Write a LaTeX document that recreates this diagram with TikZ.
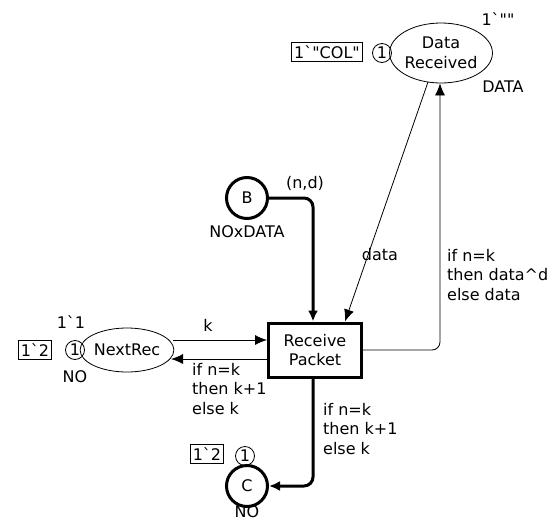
\documentclass[tikz,border=0pt]{standalone}
\usepackage{fontspec}
\setmainfont{DejaVu Sans}[Ligatures=TeXOff]
\usetikzlibrary{arrows.meta,shapes.geometric}
\begin{document}
\begin{tikzpicture}[x=1pt,y=-1pt,
  every node/.style={font=\fontsize{16}{19.5}\selectfont, inner sep=0pt},
  place/.style={draw, ellipse, line width=0.8pt},
  tplace/.style={draw, circle, line width=3pt, minimum size=41pt},
  trans/.style={draw, rectangle, line width=3pt, minimum width=93pt, minimum height=54pt, align=center},
  tok/.style={draw, circle, line width=0.8pt, minimum size=19pt},
  markbox/.style={draw, rectangle, line width=0.8pt, inner xsep=2.5pt, inner ysep=3pt},
  lbl/.style={align=left},
  arc/.style={line width=0.8pt, -{Latex[length=12pt,width=10pt]}},
  tarc/.style={line width=3pt, -{Latex[length=11pt,width=10pt]}, rounded corners=9pt}
]
\useasboundingbox (0,0) rectangle (555,528);
% Data Received
\node[place, minimum width=102pt, minimum height=60pt, align=center] (dr) at (441,53) {Data\\Received};
\node[tok] (drt) at (382,53) {1};
\node[markbox] (drm) at (327,52) {1`"COL"};
\node (dri) at (498,19) {1`""};
\node (drty) at (503,87) {DATA};
% B
\node[tplace] (b) at (247,198) {B};
\node (bty) at (247,232) {NOxDATA};
% Transition
\node[trans] (t) at (315,350) {Receive\\Packet};
% NextRec
\node[place, minimum width=92pt, minimum height=44pt] (nr) at (127,350) {NextRec};
\node[tok] (nrt) at (75,350) {1};
\node[markbox] (nrm) at (35,350) {1`2};
\node (nri) at (71,322) {1`1};
\node (nrty) at (75,377) {NO};
% C
\node[tplace] (c) at (247,486) {C};
\node[tok] (ct) at (245,456) {1};
\node[markbox] (cm) at (207,454) {1`2};
\node (cty) at (247,512) {NO};
% arcs
\coordinate (bc) at (313,198);
\draw[tarc] (b.east) -- (bc) -- (t.north -| bc);
\node (nd) at (305,183) {(n,d)};
\coordinate (dtop) at (428,82);
\draw[arc] (dtop) -- ([xshift=30pt]t.north);
\node (dl) at (380,255) {data};
\coordinate (rc) at (440,350);
\draw[arc, rounded corners=8pt] (t.east) -- (rc) -- (dr.south -| rc);
\node[lbl, anchor=north west] (rl) at (447,249) {if n=k\\then data\textasciicircum d\\else data};
\coordinate (k1) at (173,340);
\draw[arc] (k1) -- (k1 -| t.west);
\node (kl) at (208,325) {k};
\coordinate (k2) at (268,359);
\coordinate (k2e) at (171,359);
\draw[arc] (k2) -- (k2e);
\node[lbl, anchor=north west] (kl2) at (192,363) {if n=k\\then k+1\\else k};
\coordinate (cc) at (313,486);
\draw[tarc] (t.south -| cc) -- (cc) -- (c.east);
\node[lbl, anchor=north west] (cl) at (323,403) {if n=k\\then k+1\\else k};
\end{tikzpicture}
\end{document}
